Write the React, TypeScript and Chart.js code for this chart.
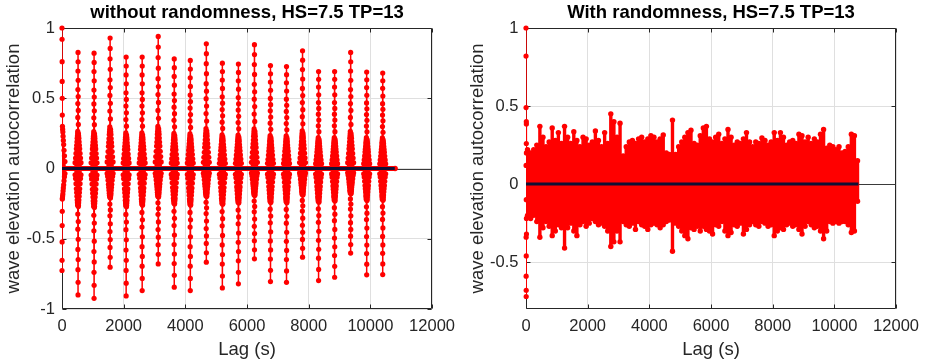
import React, { useEffect, useRef } from 'react';
import { Chart, registerables } from 'chart.js';

Chart.register(...registerables);

const FONT = "'Liberation Sans', Arial, Helvetica, sans-serif";
const TEXT = '#262626';
const GRID = '#dfdfdf';
const RED = '#ff0000';
const NAVY = '#101035';

// ---------- Left chart: without randomness ----------
// centre lag of each wave-group cluster (s)
const clusterLags = [0, 520, 1040, 1560, 2080, 2600, 3120, 3640, 4160, 4680, 5200, 5720, 6240, 6760, 7280, 7800, 8320, 8840, 9360, 9880, 10400];
// highest and lowest autocorrelation reached in each cluster
const clusterMax = [1.0, 0.826, 0.821, 0.929, 0.793, 0.793, 0.94, 0.78, 0.769, 0.888, 0.75, 0.743, 0.881, 0.733, 0.726, 0.838, 0.69, 0.69, 0.826, 0.686, 0.679];
const clusterMin = [-0.726, -0.9, -0.924, -0.702, -0.907, -0.869, -0.679, -0.845, -0.869, -0.667, -0.85, -0.821, -0.643, -0.805, -0.81, -0.631, -0.798, -0.774, -0.602, -0.757, -0.755];
// cluster shape: central stems (offset s, share of peak / trough)
const coreOffsets = [0, 2, -2, 4, -4, 6, -6, 8, -8, 10, -10];
const coreUpRel = [1.0, 0.92, 0.84, 0.76, 0.68, 0.62, 0.56, 0.5, 0.44, 0.38, 0.32];
const coreDownRel = [1.0, 0.9, 0.8, 0.72, 0.64, 0.56, 0.48, 0.42, 0.36, 0.3, 0.26];
// wider, lower stems forming the dense base of each cluster
const baseOffsets = [-96, -80, -66, -54, -44, -35, -27, -20, -14, 14, 20, 27, 35, 44, 54, 66, 80, 96];
const baseUpRel = [0.05, 0.09, 0.13, 0.17, 0.2, 0.23, 0.26, 0.28, 0.3, 0.3, 0.28, 0.26, 0.23, 0.2, 0.17, 0.13, 0.09, 0.05];
const baseDownRel = [0.05, 0.08, 0.12, 0.16, 0.19, 0.22, 0.25, 0.27, 0.29, 0.29, 0.27, 0.25, 0.22, 0.19, 0.16, 0.12, 0.08, 0.05];
const leftLastLag = 10800;

// ---------- Right chart: with randomness ----------
const zeroLagLags = [0, 1, 2, 3, 4, 5, 6, 7, 8, 9, 10, 11, 12, 13, 14, 15];
const zeroLagValues = [1, 0.82, 0.49, 0.12, -0.34, -0.59, -0.72, -0.68, -0.46, -0.1, 0.26, 0.4, 0.385, 0.2, -0.22, -0.32];
const rightLagStart = 50;
const rightLagStep = 100;
const rightTop = [
  0.22, 0.2, 0.22, 0.25, 0.37, 0.3, 0.24, 0.27, 0.36, 0.28,
  0.33, 0.26, 0.37, 0.3, 0.26, 0.335, 0.28, 0.24, 0.3, 0.29,
  0.25, 0.27, 0.34, 0.28, 0.24, 0.33, 0.26, 0.45, 0.4, 0.3,
  0.39, 0.18, 0.24, 0.27, 0.28, 0.26, 0.29, 0.3, 0.27, 0.29,
  0.31, 0.3, 0.27, 0.29, 0.315, 0.2, 0.19, 0.41, 0.19, 0.24,
  0.27, 0.3, 0.33, 0.345, 0.26, 0.25, 0.31, 0.36, 0.37, 0.29,
  0.27, 0.3, 0.32, 0.26, 0.29, 0.35, 0.3, 0.25, 0.27, 0.26,
  0.29, 0.33, 0.27, 0.24, 0.27, 0.26, 0.295, 0.28, 0.25, 0.27,
  0.33, 0.28, 0.33, 0.3, 0.25, 0.27, 0.28, 0.26, 0.32, 0.31,
  0.27, 0.3, 0.26, 0.29, 0.27, 0.32, 0.35, 0.23, 0.25, 0.24,
  0.22, 0.24, 0.2, 0.21, 0.24, 0.32, 0.31, 0.15,
];
const rightBottom = [
  -0.2, -0.22, -0.2, -0.24, -0.34, -0.28, -0.24, -0.27, -0.33, -0.3,
  -0.26, -0.28, -0.41, -0.28, -0.25, -0.3, -0.33, -0.26, -0.24, -0.27,
  -0.25, -0.22, -0.24, -0.26, -0.25, -0.27, -0.3, -0.4, -0.37, -0.3,
  -0.37, -0.24, -0.26, -0.27, -0.25, -0.29, -0.24, -0.26, -0.27, -0.29,
  -0.26, -0.25, -0.26, -0.28, -0.26, -0.24, -0.23, -0.43, -0.25, -0.27,
  -0.3, -0.33, -0.35, -0.28, -0.29, -0.27, -0.3, -0.27, -0.29, -0.3,
  -0.32, -0.26, -0.27, -0.24, -0.3, -0.33, -0.31, -0.26, -0.27, -0.25,
  -0.32, -0.29, -0.26, -0.24, -0.26, -0.27, -0.24, -0.25, -0.27, -0.26,
  -0.33, -0.3, -0.28, -0.29, -0.26, -0.25, -0.27, -0.26, -0.29, -0.32,
  -0.27, -0.24, -0.26, -0.28, -0.27, -0.3, -0.35, -0.3, -0.24, -0.25,
  -0.24, -0.25, -0.24, -0.24, -0.26, -0.31, -0.3, -0.11,
];

// ---------- axes ----------
const xTickStep = 2000;
const xMin = 0;
const xMax = 12000;
const yTickStep = 0.5;
const leftYMin = -1;
const rightYMin = -0.8;
const yMax = 1;

type P = { x: number; y: number | null };
type Pt = { x: number; y: number };

function stemPath(pts: Pt[]): P[] {
  const out: P[] = [];
  for (const p of pts) {
    out.push({ x: p.x, y: 0 }, { x: p.x, y: p.y }, { x: p.x, y: null });
  }
  return out;
}

function leftPoints() {
  const pts: Pt[] = [];
  clusterLags.forEach((lag, k) => {
    baseOffsets.forEach((o, i) => {
      pts.push({ x: lag + o, y: baseUpRel[i] * clusterMax[k] });
      pts.push({ x: lag + o, y: baseDownRel[i] * clusterMin[k] });
    });
    coreOffsets.forEach((o, i) => {
      pts.push({ x: lag + o, y: coreUpRel[i] * clusterMax[k] });
      pts.push({ x: lag + o, y: coreDownRel[i] * clusterMin[k] });
    });
  });
  return pts.filter((p) => p.x >= 0);
}

function rightBandPoints() {
  const pts: Pt[] = [];
  rightTop.forEach((v, i) => {
    const lag = rightLagStart + i * rightLagStep;
    pts.push({ x: lag, y: v });
    pts.push({ x: lag, y: rightBottom[i] });
  });
  return pts;
}

function rightZeroPoints() {
  return zeroLagLags.map((l, i) => ({ x: l, y: zeroLagValues[i] }));
}

const boxPlugin = {
  id: 'matlabBox',
  beforeDatasetsDraw(chart: any) {
    const { ctx, chartArea: a, scales } = chart;
    ctx.save();
    ctx.strokeStyle = TEXT;
    ctx.lineWidth = 1;
    const L = Math.round(a.left) + 0.5;
    const R = Math.round(a.right) - 0.5;
    const T = Math.round(a.top) + 0.5;
    const B = Math.round(a.bottom) - 0.5;
    ctx.beginPath();
    ctx.rect(L, T, R - L, B - T);
    ctx.stroke();
    const tl = 4;
    ctx.beginPath();
    for (const t of scales.x.ticks) {
      const px = Math.round(scales.x.getPixelForValue(t.value)) + 0.5;
      ctx.moveTo(px, B); ctx.lineTo(px, B - tl);
      ctx.moveTo(px, T); ctx.lineTo(px, T + tl);
    }
    for (const t of scales.y.ticks) {
      const py = Math.round(scales.y.getPixelForValue(t.value)) + 0.5;
      ctx.moveTo(L, py); ctx.lineTo(L + tl, py);
      ctx.moveTo(R, py); ctx.lineTo(R - tl, py);
    }
    ctx.stroke();
    const y0 = Math.round(scales.y.getPixelForValue(0)) + 0.5;
    ctx.strokeStyle = '#3a3a3a';
    ctx.beginPath();
    ctx.moveTo(L, y0); ctx.lineTo(R, y0);
    ctx.stroke();
    ctx.restore();
  },
};

type StemGroup = { pts: Pt[]; width: number; radius: number };

function makeConfig(o: {
  title: string;
  yMin: number;
  yWidth: number;
  yTitlePad: number;
  yTickPad: number;
  groups: StemGroup[];
  blackEnd: number;
  zeroBandEnd: number | null;
}): any {
  const datasets: any[] = [];
  datasets.push({
    data: [{ x: 0, y: 0 }, { x: o.blackEnd, y: 0 }],
    showLine: true,
    borderColor: NAVY,
    borderWidth: 3,
    pointRadius: 0,
  });
  for (const g of o.groups) {
    datasets.push({
      data: g.pts,
      showLine: false,
      pointRadius: g.radius,
      pointBackgroundColor: RED,
      pointBorderWidth: 0,
      clip: false,
    });
  }
  for (const g of o.groups) {
    datasets.push({
      data: stemPath(g.pts),
      showLine: true,
      spanGaps: false,
      borderColor: RED,
      borderWidth: g.width,
      pointRadius: 0,
    });
  }
  if (o.zeroBandEnd !== null) {
    datasets.push({
      data: [{ x: 0, y: 0 }, { x: o.zeroBandEnd, y: 0 }],
      showLine: true,
      borderColor: RED,
      borderWidth: 5,
      pointRadius: [0, 2.8],
      pointBackgroundColor: RED,
      pointBorderWidth: 0,
    });
  }
  return {
    type: 'scatter',
    data: { datasets },
    options: {
      responsive: false,
      animation: false,
      devicePixelRatio: 1,
      events: [],
      layout: { padding: { left: 0, right: 26, top: 0, bottom: 0 } },
      elements: { line: { tension: 0 } },
      plugins: {
        legend: { display: false },
        tooltip: { enabled: false },
        title: {
          display: true,
          text: o.title,
          color: '#000000',
          fullSize: false,
          font: { family: FONT, size: 18.5, weight: 'bold', lineHeight: 1.2 },
          padding: { top: 1.9, bottom: 3.9 },
        },
      },
      scales: {
        x: {
          type: 'linear',
          min: xMin,
          max: xMax,
          afterFit: (s: any) => { s.height = 54; },
          ticks: {
            stepSize: xTickStep,
            autoSkip: false,
            maxRotation: 0,
            padding: 8,
            color: TEXT,
            font: { family: FONT, size: 16.5, lineHeight: 1.2 },
            callback: (v: any) => String(v),
          },
          grid: { color: GRID, drawTicks: false, lineWidth: 1 },
          border: { display: false },
          title: {
            display: true,
            text: 'Lag (s)',
            color: TEXT,
            font: { family: FONT, size: 18.5, lineHeight: 1.2 },
            padding: { top: 0, bottom: 1.9 },
          },
        },
        y: {
          type: 'linear',
          min: o.yMin,
          max: yMax,
          afterFit: (s: any) => { s.width = o.yWidth; },
          ticks: {
            stepSize: yTickStep,
            includeBounds: false,
            padding: o.yTickPad,
            color: TEXT,
            font: { family: FONT, size: 16.5, lineHeight: 1.2 },
            callback: (v: any) => String(v),
          },
          grid: { color: GRID, drawTicks: false, lineWidth: 1 },
          border: { display: false },
          title: {
            display: true,
            text: 'wave elevation autocorrelation',
            color: TEXT,
            font: { family: FONT, size: 18.5, lineHeight: 1.2 },
            padding: { top: o.yTitlePad, bottom: 0 },
          },
        },
      },
    },
    plugins: [boxPlugin],
  };
}

export default function App() {
  const leftRef = useRef<HTMLCanvasElement | null>(null);
  const rightRef = useRef<HTMLCanvasElement | null>(null);

  useEffect(() => {
    const left = new Chart(
      leftRef.current as HTMLCanvasElement,
      makeConfig({
        title: 'without randomness, HS=7.5 TP=13',
        yMin: leftYMin,
        yWidth: 62,
        yTitlePad: 2.9,
        yTickPad: 7,
        groups: [{ pts: leftPoints(), width: 1.5, radius: 2.6 }],
        blackEnd: 10790,
        zeroBandEnd: leftLastLag,
      })
    );
    const right = new Chart(
      rightRef.current as HTMLCanvasElement,
      makeConfig({
        title: 'With randomness, HS=7.5 TP=13',
        yMin: rightYMin,
        yWidth: 63,
        yTitlePad: 3.9,
        yTickPad: 7.5,
        groups: [
          { pts: rightBandPoints(), width: 3.4, radius: 2.7 },
          { pts: rightZeroPoints(), width: 1.5, radius: 2.6 },
        ],
        blackEnd: 10780,
        zeroBandEnd: null,
      })
    );
    return () => {
      left.destroy();
      right.destroy();
    };
  }, []);

  return (
    <div style={{ position: 'absolute', left: 0, top: 0, width: 927, height: 363, background: '#ffffff' }}>
      <canvas ref={leftRef} width={463} height={363} style={{ position: 'absolute', left: 0, top: 0, width: 463, height: 363 }} />
      <canvas ref={rightRef} width={464} height={363} style={{ position: 'absolute', left: 463, top: 0, width: 464, height: 363 }} />
    </div>
  );
}
